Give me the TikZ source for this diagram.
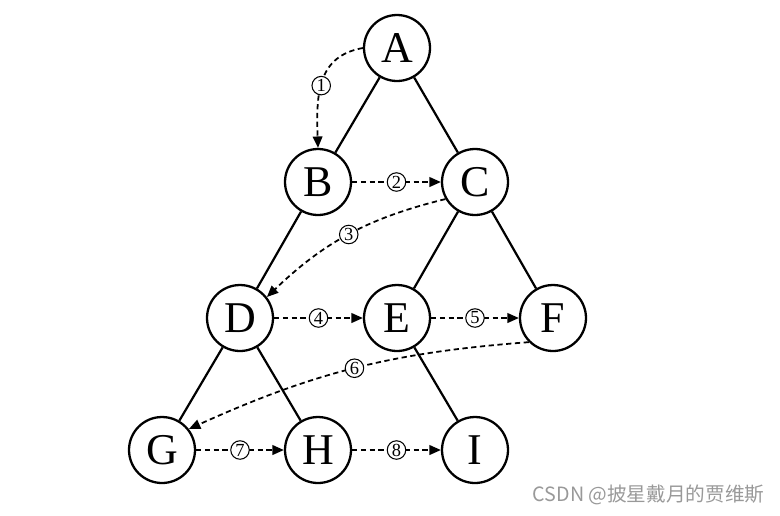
\documentclass[tikz,border=0pt]{standalone}
\usepackage{fontspec}
\setmainfont{Liberation Serif}
\newfontfamily\cjkfont{Noto Sans CJK SC}
\usetikzlibrary{arrows.meta}

\begin{document}
\begin{tikzpicture}[
    x=0.02cm, y=0.02cm,
    vnode/.style={circle, draw, line width=1.3pt, minimum size=1.32cm, inner sep=0pt, font=\fontsize{25}{28}\selectfont},
    tedge/.style={line width=1.25pt},
    trav/.style={-{Triangle[length=6.5pt,width=5.5pt]}, dash pattern=on 3pt off 2pt, line width=1pt},
    num/.style={circle, draw, solid, fill=white, line width=0.6pt, minimum size=0.37cm, inner sep=0pt, font=\fontsize{10.5}{11}\selectfont}
]
\useasboundingbox (0,0) rectangle (780,-515);
% --- Tree nodes ---
\foreach \n/\x/\y in {A/397/48, B/318/182, C/475/182, D/240/318, E/397/318, F/553/318, G/162/450, H/318/450, I/475/450} {
    \node[vnode] (\n) at (\x,-\y) {\n};
}
% --- Tree edges ---
\foreach \a/\b in {A/B, A/C, B/D, C/E, C/F, D/G, D/H, E/I} {
    \draw[tedge] (\a) -- (\b);
}
% --- Traversal order, dashed arrows ---
\draw[trav] (A.west) .. controls +(-45,-8) and +(-2,55) .. (B.north) node[num, pos=0.55] {1};
\draw[trav] (B) -- node[num] {2} (C);
\draw[trav] (C.210) to[bend right=15] node[num] {3} (D.38);
\draw[trav] (D) -- node[num] {4} (E);
\draw[trav] (E) -- node[num] {5} (F);
\draw[trav] (F.225) to[bend right=10] node[num] {6} (G.38);
\draw[trav] (G) -- node[num] {7} (H);
\draw[trav] (H) -- node[num] {8} (I);
% --- Watermark ---
\node[text=gray!80, font=\cjkfont\fontsize{11.2}{13}\selectfont, anchor=east, inner sep=0pt] (mark) at (765,-495) {CSDN @披星戴月的贾维斯};
\end{tikzpicture}
\end{document}
